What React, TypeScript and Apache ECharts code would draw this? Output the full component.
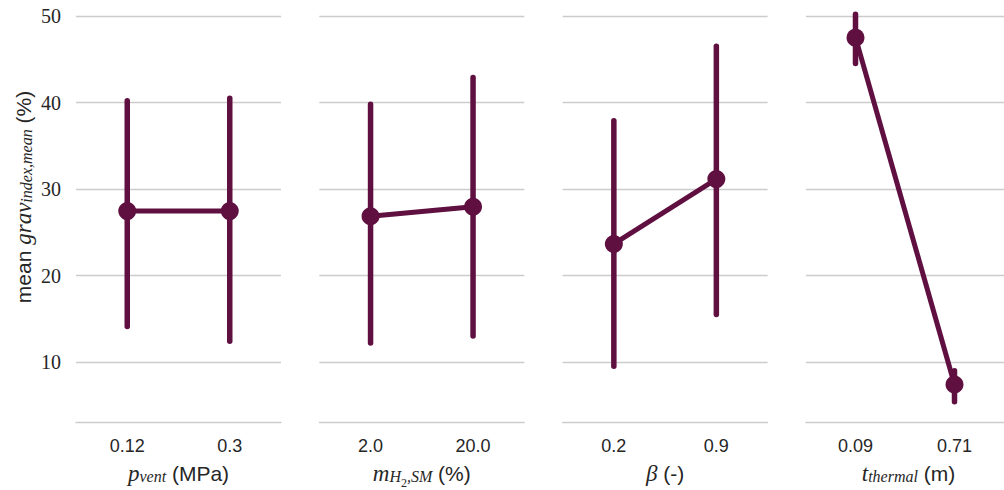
import React, { useEffect, useRef } from "react";
import * as echarts from "echarts";

const panelCategories: string[][] = [
  ["0.12", "0.3"],
  ["2.0", "20.0"],
  ["0.2", "0.9"],
  ["0.09", "0.71"],
];
const meanValues: number[][] = [
  [27.45, 27.45],
  [26.85, 27.95],
  [23.65, 31.15],
  [47.5, 7.4],
];
const lowerValues: number[][] = [
  [14.1, 12.4],
  [12.2, 13.0],
  [9.5, 15.5],
  [44.5, 5.4],
];
const upperValues: number[][] = [
  [40.2, 40.5],
  [39.8, 42.9],
  [37.9, 46.5],
  [50.2, 9.0],
];
const yTicks: number[] = [10, 20, 30, 40, 50];

const COLOR = "#5f0f40";
const TEXT = "#262626";
const GRID = "#cccccc";
const SANS = "Liberation Sans";
const SERIF = "Liberation Serif";

const PANEL_LEFT = [76, 319.3, 562.6, 806];
const PANEL_WIDTH = 205;
const Y_MIN = 3;
const Y_MAX = 50.5;
const GRID_TOP = 11.7;
const GRID_HEIGHT = 410.9;

// every token is centred on the line; a top padding of 2*d moves a token d px down
const baseRich = {
  m: { fontFamily: SERIF, fontStyle: "italic", fontSize: 23, fill: TEXT, verticalAlign: "middle" },
  s: { fontFamily: SANS, fontSize: 21, fill: TEXT, verticalAlign: "middle" },
  sub: { fontFamily: SERIF, fontStyle: "italic", fontSize: 16, fill: TEXT, verticalAlign: "middle", padding: [7, 0, 0, 0] },
  subsub: { fontFamily: SERIF, fontSize: 12, fill: TEXT, verticalAlign: "middle", padding: [20, 0, 0, 0] },
};

const xTitles: string[] = [
  "{m|p}{sub|vent}{s| (MPa)}",
  "{m|m}{sub|H}{subsub|2}{sub|,SM}{s| (%)}",
  "{m|β}{s| (-)}",
  "{m|t}{sub|thermal}{s| (m)}",
];
const yTitle = "{s|mean }{m|grav}{sub|index,mean}{s| (%)}";

export default function App() {
  const ref = useRef<HTMLDivElement>(null);
  useEffect(() => {
    if (!ref.current) return;
    const chart = echarts.init(ref.current, undefined, { renderer: "svg" });
    const grids = PANEL_LEFT.map((left) => ({
      left,
      top: GRID_TOP,
      width: PANEL_WIDTH,
      height: GRID_HEIGHT,
      containLabel: false,
    }));
    const xAxes = panelCategories.map((cats, i) => ({
      type: "category",
      gridIndex: i,
      data: cats,
      boundaryGap: true,
      axisLine: { show: true, lineStyle: { color: GRID, width: 1.3 } },
      axisTick: { show: false },
      axisLabel: { color: TEXT, fontFamily: SANS, fontSize: 18, margin: 14 },
      splitLine: { show: false },
    }));
    const yAxes = panelCategories.map((_, i) => ({
      type: "value",
      gridIndex: i,
      min: Y_MIN,
      max: Y_MAX,
      axisLine: { show: false },
      axisTick: { show: false, customValues: yTicks },
      axisLabel: {
        show: i === 0,
        customValues: yTicks,
        color: TEXT,
        fontFamily: SERIF,
        fontSize: 20,
        margin: 15,
      },
      splitLine: { show: true, lineStyle: { color: GRID, width: 1.3 } },
    }));
    const series: any[] = [];
    panelCategories.forEach((cats, i) => {
      series.push({
        type: "custom",
        xAxisIndex: i,
        yAxisIndex: i,
        data: cats.map((_, j) => [j, lowerValues[i][j], upperValues[i][j]]),
        encode: { x: 0, y: [1, 2] },
        renderItem: (params: any, api: any) => {
          const lo = api.coord([api.value(0), api.value(1)]);
          const hi = api.coord([api.value(0), api.value(2)]);
          return {
            type: "line",
            shape: { x1: lo[0], y1: lo[1], x2: hi[0], y2: hi[1] },
            style: { stroke: COLOR, lineWidth: 5.5, lineCap: "round" },
          };
        },
        z: 2,
      });
      series.push({
        type: "line",
        xAxisIndex: i,
        yAxisIndex: i,
        data: meanValues[i],
        symbol: "circle",
        symbolSize: 18,
        itemStyle: { color: COLOR },
        lineStyle: { color: COLOR, width: 5 },
        z: 3,
      });
    });
    const graphics: any[] = xTitles.map((t, i) => ({
      type: "text",
      x: PANEL_LEFT[i] + PANEL_WIDTH / 2,
      y: 473,
      style: { text: t, rich: baseRich, align: "center", verticalAlign: "middle" },
    }));
    graphics.push({
      type: "text",
      x: 23,
      y: 197,
      rotation: Math.PI / 2,
      style: { text: yTitle, rich: baseRich, align: "center", verticalAlign: "middle" },
    });
    chart.setOption({
      animation: false,
      backgroundColor: "#ffffff",
      grid: grids,
      xAxis: xAxes,
      yAxis: yAxes,
      series,
      graphic: graphics,
    });
    return () => chart.dispose();
  }, []);
  return (
    <div
      ref={ref}
      style={{ position: "fixed", left: 0, top: 0, width: 1004, height: 490 }}
    />
  );
}
